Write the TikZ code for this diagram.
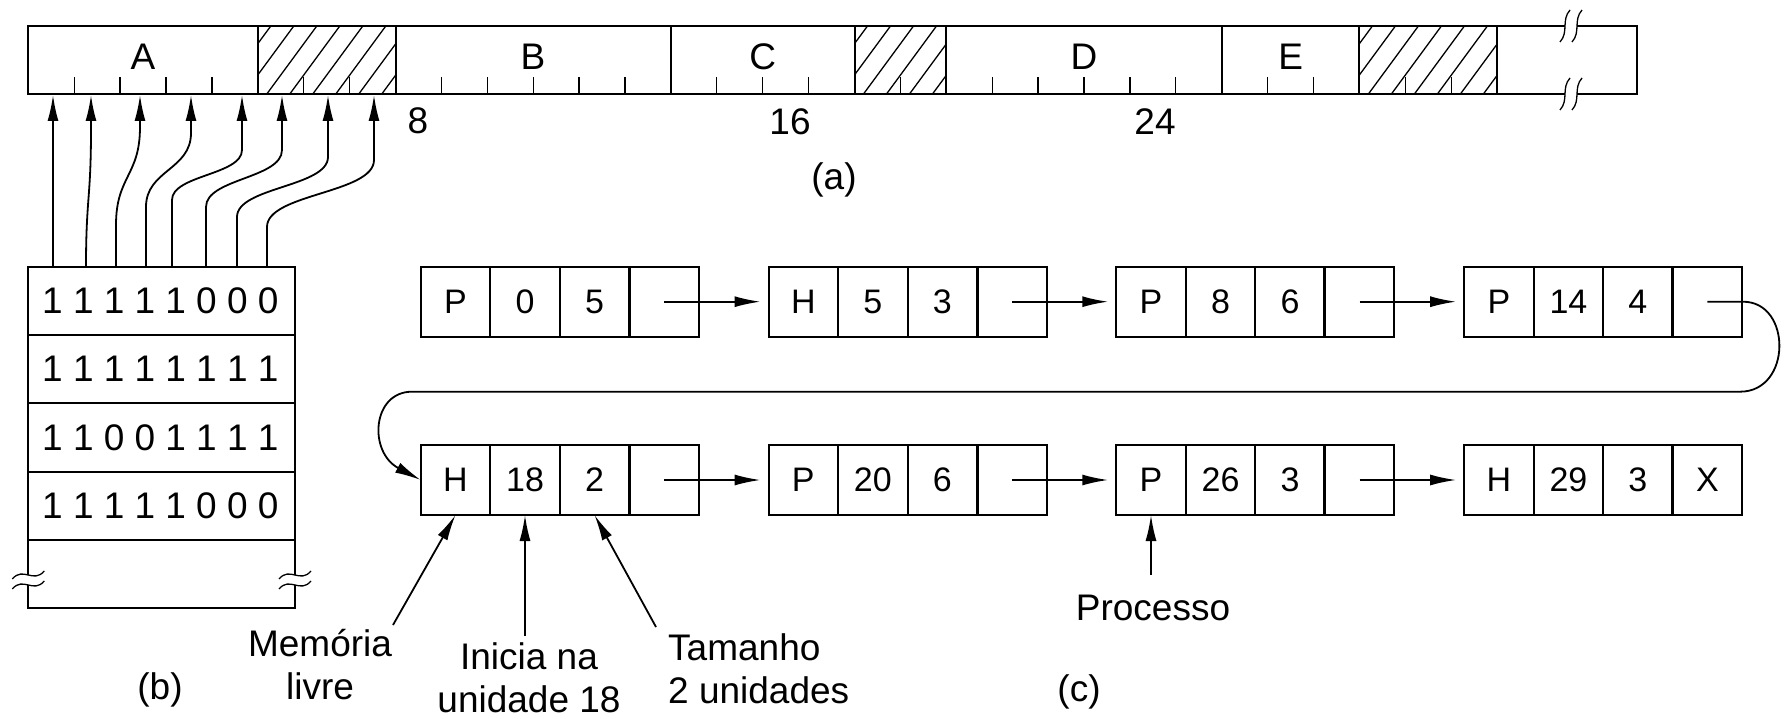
\documentclass[tikz,border=0pt]{standalone}
\usepackage{fontspec}
\setmainfont{Liberation Sans}
\usetikzlibrary{arrows.meta}

\newcommand{\figfont}{\fontsize{37}{43}\selectfont}
\newcommand{\cellfont}{\fontsize{34}{40}\selectfont}
\tikzset{
  cell/.style={draw, line width=2pt, minimum width=69.5pt, minimum height=70pt, inner sep=0pt, outer sep=0pt, font=\cellfont},
  lbl/.style={inner sep=0pt, font=\figfont},
  ptr/.style={line width=1.8pt, -{Latex[length=26pt,width=11pt]}},
  frame/.style={line width=2pt},
  hatch/.style={line width=1.3pt},
}
% one list entry: name, x, y, type, start, length, next
\newcommand{\listrec}[7]{%
  \node[cell] (#1-1) at (#2,#3) {#4};
  \node[cell] (#1-2) at (#2+69.5,#3) {#5};
  \node[cell] (#1-3) at (#2+139,#3) {#6};
  \node[cell] (#1-4) at (#2+208.5,#3) {#7};
  \draw[line width=3pt] (#1-4.north west) -- (#1-4.south west);
}

\begin{document}
\begin{tikzpicture}[x=1pt,y=1pt,yscale=-1,xscale=1]
\useasboundingbox (0,0) rectangle (1791,719);

%Hatched holes of the memory bar
\foreach \a/\b in {257.8/395.5, 854.5/946.3, 1359.4/1497}{
  \begin{scope}
    \clip (\a,26) rectangle (\b,94);
    \foreach \k in {0,...,9} \draw[hatch] (\a-60+\k*23,94) -- ++(50,-68);
  \end{scope}
}

%Memory bar
\draw[frame] (28.3,26) rectangle (1637,94);
\foreach \u in {5,8,14,18,20,26,29,32} \draw[frame] (28.3+\u*45.9,26) -- (28.3+\u*45.9,94);
\foreach \u in {1,...,31} \draw[hatch] (28.3+\u*45.9,94) -- (28.3+\u*45.9,77);

%Break marks
\fill[white] (1565,18) rectangle (1577,34);
\fill[white] (1565,86) rectangle (1577,102);
\foreach \y in {26,94} \foreach \o in {-6,6}
  \draw[hatch] (1571+\o-5,\y+16) .. controls (1571+\o+4,\y+6) and (1571+\o-4,\y-6) .. (1571+\o+5,\y-16);

% Text Node
\node[lbl] (lA) at (143,57) {A};
\node[lbl] (lB) at (533,57) {B};
\node[lbl] (lC) at (762.7,57) {C};
\node[lbl] (lD) at (1084,57) {D};
\node[lbl] (lE) at (1290.6,57) {E};
\node[lbl] (n8) at (418,121) {8};
\node[lbl] (n16) at (790,122) {16};
\node[lbl] (n24) at (1155,122) {24};
\node[lbl] (capa) at (834,180) {(a)};

%Bitmap (b)
\draw[frame] (28.3,575) -- (28.3,266.7) -- (295,266.7) -- (295,575);
\draw[frame] (28.3,585) -- (28.3,608.2) -- (295,608.2) -- (295,585);
\foreach \y in {335,403.3,471.6,540} \draw[frame] (28.3,\y) -- (295,\y);
\foreach \x in {28.3,295} \foreach \o in {-5,5}
  \draw[hatch] (\x-16,580+\o+4) .. controls (\x-5,580+\o-9) and (\x+5,580+\o+9) .. (\x+16,580+\o-4);

\foreach \r/\bits in {1/{1,1,1,1,1,0,0,0}, 2/{1,1,1,1,1,1,1,1}, 3/{1,1,0,0,1,1,1,1}, 4/{1,1,1,1,1,0,0,0}}
  \foreach \b [count=\k] in \bits
    \node[lbl] (d\r-\k) at (52.5+30.8*\k-30.8, 300.9+68.3*\r-68.3) {\b};

\node[lbl] (capb) at (160,690) {(b)};

%Bits to allocation units
\foreach \i/\xs/\xe/\ya/\yb in {1/53/53/266.7/130, 2/86/91/266.7/130, 3/116/140/225/127,
    4/146/191/207/133, 5/172/242/200/150, 6/206/282/207/150, 7/237/328/217/157, 8/267/374/227/160}{
  \coordinate (s\i) at (\xs,266.7);
  \coordinate (e\i) at (\xe,95);
  \pgfmathsetmacro\ym{(\ya+\yb)/2}
  \draw[ptr] (s\i) -- (\xs,\ya) .. controls (\xs,\ym) and (\xe,\ym) .. (\xe,\yb) -- (e\i);
}

%List (c)
\listrec{r1a}{455.5}{301.7}{P}{0}{5}{}
\listrec{r1b}{803.3}{301.7}{H}{5}{3}{}
\listrec{r1c}{1151}{301.7}{P}{8}{6}{}
\listrec{r1d}{1498.9}{301.7}{P}{14}{4}{}
\listrec{r2a}{455.5}{480}{H}{18}{2}{}
\listrec{r2b}{803.3}{480}{P}{20}{6}{}
\listrec{r2c}{1151}{480}{P}{26}{3}{}
\listrec{r2d}{1498.9}{480}{H}{29}{3}{X}

\foreach \a/\b in {r1a/r1b, r1b/r1c, r1c/r1d, r2a/r2b, r2b/r2c, r2c/r2d}
  \draw[ptr, shorten >=8pt] (\a-4.center) -- (\b-1.west);

\coordinate (loopA) at (1743,301.7);
\coordinate (loopB) at (1740,391.7);
\coordinate (loopC) at (412,391.7);
\draw[ptr] (r1d-4.center) -- (loopA) .. controls (1792,301.7) and (1792,391.7) .. (loopB)
  -- (loopC) .. controls (372,391.7) and (368,452) .. (r2a-1.west);

% Text Node
\node[lbl, align=center] (mem) at (320,665) {Memória\\livre};
\node[lbl, align=center] (ini) at (529,678) {Inicia na\\unidade 18};
\node[lbl, align=left, anchor=west] (tam) at (668,669) {Tamanho\\2 unidades};
\node[lbl] (proc) at (1153,608) {Processo};
\node[lbl] (capc) at (1079,692) {(c)};

\coordinate (memT) at (393,625);
\coordinate (iniT) at (525,636);
\coordinate (tamT) at (656,627);
\coordinate (procT) at (1151,575);
\draw[ptr] (memT) -- (r2a-1.south);
\draw[ptr] (iniT) -- (r2a-2.south);
\draw[ptr] (tamT) -- (r2a-3.south);
\draw[ptr] (procT) -- (r2c-1.south);

\end{tikzpicture}
\end{document}
